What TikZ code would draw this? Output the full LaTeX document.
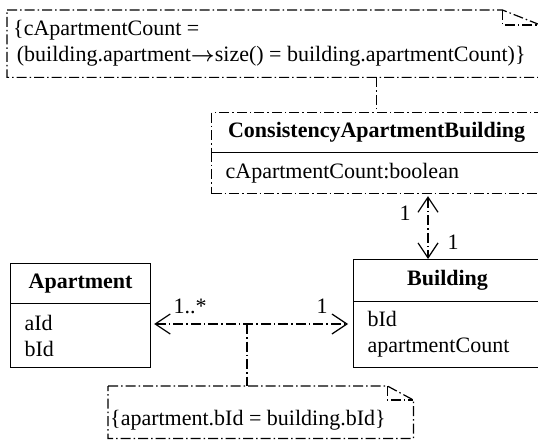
\documentclass[tikz,border=0pt]{standalone}
\usepackage{amsmath}
\usepackage{fontspec}
\setmainfont{Liberation Serif}
\usetikzlibrary{arrows.meta}
\newcommand{\navarrow}{\ensuremath{\boldsymbol{\rightarrow}}}
\begin{document}
\begin{tikzpicture}[x=1pt, y=-1pt,
  font=\fontsize{22}{26}\selectfont,
  dd/.style={line width=1.2pt, dash pattern=on 10pt off 3pt on 1.5pt off 3pt},
  solidbox/.style={draw, line width=1.2pt, inner sep=0pt},
  dashbox/.style={draw, dd, inner sep=0pt},
  attrs/.style={align=left, inner xsep=14pt, inner ysep=0pt},
  barb/.tip={Straight Barb[length=15pt, width=20pt, line width=1.2pt]},
  mult/.style={inner sep=0pt}]
\useasboundingbox (0,0) rectangle (538,441);

% constraint note at the top
\node[anchor=north west, minimum width=533pt, minimum height=67pt, inner sep=0pt] (n1) at (7,10) {};
\draw[dd] (n1.north west) -- ([xshift=-38pt]n1.north east) -- ([yshift=-15pt]n1.north east)
  -- (n1.south east) -- (n1.south west) -- cycle;
\draw[dd] ([xshift=-38pt]n1.north east) |- ([yshift=-15pt]n1.north east);
\node[anchor=west, align=left, inner sep=0pt] (n1txt) at (13,43.5)
  {\{cApartmentCount =\\\,(building.apartment\navarrow size() = building.apartmentCount)\}};

% association class
\node[dashbox, anchor=north west, minimum width=330pt, minimum height=40pt] (cT) at (211,112)
  {\bfseries ConsistencyApartmentBuilding};
\node[dashbox, attrs, anchor=north west, text width=302pt, minimum height=41pt] (cA) at (211,152)
  {cApartmentCount:boolean};

% Apartment class
\node[solidbox, anchor=north west, minimum width=140pt, minimum height=40pt] (aT) at (10,263)
  {\bfseries Apartment};
\node[solidbox, attrs, anchor=north west, text width=112pt, minimum height=64pt] (aA) at (10,303)
  {aId\\bId};

% Building class
\node[solidbox, anchor=north west, minimum width=188pt, minimum height=42pt] (bT) at (353,259)
  {\bfseries Building};
\node[solidbox, attrs, anchor=north west, text width=160pt, minimum height=66pt] (bA) at (353,301)
  {bId\\apartmentCount};

% constraint note at the bottom
\node[anchor=north west, minimum width=305pt, minimum height=52pt, inner sep=0pt] (n2) at (108,386) {};
\draw[dd] (n2.north west) -- ([xshift=-26pt]n2.north east) -- ([yshift=-14pt]n2.north east)
  -- (n2.south east) -- (n2.south west) -- cycle;
\draw[dd] ([xshift=-26pt]n2.north east) |- ([yshift=-14pt]n2.north east);
\node[anchor=west, inner sep=0pt] (n2txt) at (110,420) {\{apartment.bId = building.bId\}};

% connectors
\coordinate (v) at (428,0);
\coordinate (h) at (0,324);
\coordinate (m) at (247,324);

\draw[dd] (n1.south -| cT.north) -- (cT.north);
\draw[dd, barb-barb, shorten <=2pt] (cA.south -| v) -- (bT.north -| v);
\draw[dd, barb-barb, shorten <=3pt, shorten >=5pt] (aA.east |- h) -- (bA.west |- h);
\draw[dd] (m) -- (m |- n2.north);

% multiplicities
\node[mult] (m1) at (190,306) {1..*};
\node[mult] (m2) at (322,306) {1};
\node[mult] (m3) at (405,213) {1};
\node[mult] (m4) at (453,242) {1};
\end{tikzpicture}
\end{document}
